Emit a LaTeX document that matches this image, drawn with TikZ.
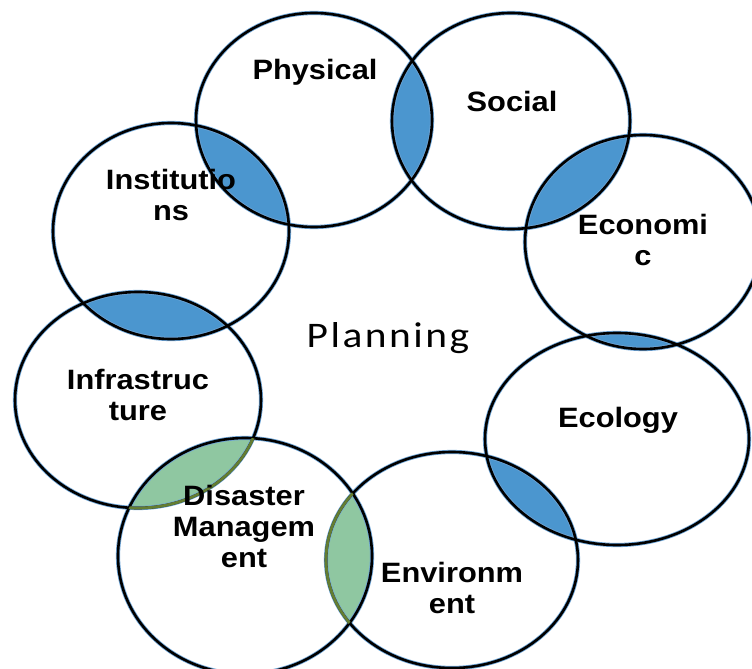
\documentclass[tikz,border=0pt]{standalone}
\usepackage{fontspec}
\setmainfont{Liberation Sans}[FakeStretch=1.1]
\newfontfamily\planfont{Carlito}[FakeStretch=1.15,LetterSpace=7]

\definecolor{lensblue}{RGB}{75,150,207}
\definecolor{lensgreen}{RGB}{143,199,161}
\definecolor{lensedge}{RGB}{100,125,50}
\definecolor{halo}{RGB}{110,165,215}

% the eight rings
\newcommand\ePhys{(314,120) ellipse [x radius=118pt, y radius=107pt]}
\newcommand\eSoc{(511,121) ellipse [x radius=119pt, y radius=108pt]}
\newcommand\eEcon{(643,242) ellipse [x radius=118pt, y radius=107pt]}
\newcommand\eEcol{(617,439) ellipse [x radius=132pt, y radius=106pt]}
\newcommand\eEnv{(452,560) ellipse [x radius=126pt, y radius=108pt]}
\newcommand\eDis{(245,556) ellipse [x radius=127pt, y radius=118pt]}
\newcommand\eInfra{(138,400) ellipse [x radius=123pt, y radius=108pt]}
\newcommand\eInst{(171,231) ellipse [x radius=118pt, y radius=108pt]}

\tikzset{
  ring/.style={draw=black, line width=2.6pt},
  ringhalo/.style={draw=halo, line width=4.2pt},
  label/.style={font=\bfseries\fontsize{28}{31}\selectfont, align=center, anchor=base, inner sep=0pt},
}

\begin{document}
\begin{tikzpicture}[x=1pt,y=-1pt]
    \useasboundingbox (0,0) rectangle (752,669);

    % blue overlaps
    \begin{scope} \clip \ePhys; \fill[lensblue] \eSoc; \end{scope}
    \begin{scope} \clip \eSoc; \fill[lensblue] \eEcon; \end{scope}
    \begin{scope} \clip \eEcon; \fill[lensblue] \eEcol; \end{scope}
    \begin{scope} \clip \eEcol; \fill[lensblue] \eEnv; \end{scope}
    \begin{scope} \clip \eInfra; \fill[lensblue] \eInst; \end{scope}
    \begin{scope} \clip \eInst; \fill[lensblue] \ePhys; \end{scope}
    % green overlaps
    \begin{scope} \clip \eDis; \fill[lensgreen] \eInfra; \fill[lensgreen] \eEnv; \end{scope}

    \foreach \e in {\ePhys,\eSoc,\eEcon,\eEcol,\eEnv,\eDis,\eInfra,\eInst}
        \draw[ringhalo] \e;
    \foreach \e in {\ePhys,\eSoc,\eEcon,\eEcol,\eEnv,\eDis,\eInfra,\eInst}
        \draw[ring] \e;

    % inner edges of the green overlaps
    \begin{scope}
        \clip \eDis;
        \draw[lensedge, line width=2.8pt] \eInfra;
        \draw[lensedge, line width=2.8pt] \eEnv;
    \end{scope}

    % labels sit on the baseline of their last line
    \node[label] (phys) at (315,80) {Physical};
    \node[label] (soc) at (512,111) {Social};
    \node[label] (inst) at (171,220) {Institutio\\ns};
    \node[label] (econ) at (643,265) {Economi\\c};
    \node[label] (infra) at (138,420) {Infrastruc\\ture};
    \node[label] (ecol) at (618,427) {Ecology};
    \node[label] (env) at (452,613) {Environm\\ent};
    \node[label] (dis) at (244,567) {Disaster\\Managem\\ent};
    \node[anchor=base, inner sep=0pt, font=\planfont\fontsize{36}{40}\selectfont] (plan) at (388,347) {Planning};
\end{tikzpicture}
\end{document}
